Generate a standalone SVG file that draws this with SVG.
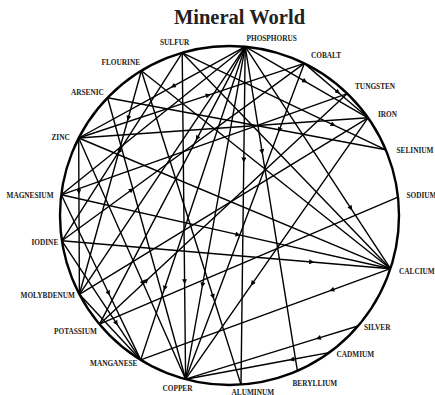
<svg xmlns="http://www.w3.org/2000/svg" width="435" height="395" viewBox="0 0 435 395">
<style>
.e{stroke:#000;stroke-width:1.4;fill:none;marker-mid:url(#a)}
.lb{font-family:"Liberation Serif","Times New Roman",serif;font-weight:bold;font-size:7.3px;fill:#222}
.t{font-family:"Liberation Serif","Times New Roman",serif;font-weight:bold;font-size:20.5px;fill:#222}
</style>
<defs>
<marker id="a" viewBox="0 0 10 10" refX="5" refY="5" markerWidth="6" markerHeight="5" markerUnits="userSpaceOnUse" orient="auto">
<path d="M0,0 L10,5 L0,10 z" fill="#000"/>
</marker>
</defs>
<rect width="435" height="395" fill="#fff"/>
<text class="t" x="239.5" y="23.5" text-anchor="middle">Mineral World</text>
<circle cx="229.5" cy="215.5" r="169.5" fill="none" stroke="#000" stroke-width="2.4"/>
<g id="connectors">
<path class="e" d="M245.2,46.7 L173,86.3 L78.7,138"/>
<path class="e" d="M245.2,46.7 L61.3,194.8"/>
<path class="e" d="M245.2,46.7 L79.4,294.3"/>
<path class="e" d="M245.2,46.7 L197.1,138.3 L99.5,324.2"/>
<path class="e" d="M245.2,46.7 L164.6,288.3 L140.7,359.9"/>
<path class="e" d="M245.2,46.7 L202.5,285 L185.6,379.2"/>
<path class="e" d="M245.2,46.7 L243.8,160 L241,384.6"/>
<path class="e" d="M245.2,46.7 L262.1,151.7 L297.4,370.8"/>
<path class="e" d="M245.2,46.7 L350.9,208.3 L390.4,268.7"/>
<path class="e" d="M245.2,46.7 L305,81.3 L368,117.8"/>
<path class="e" d="M182.2,52.8 L184.6,281.7 L185.6,379.2"/>
<path class="e" d="M182.2,52.8 L118.9,151.7 L61.9,240.8"/>
<path class="e" d="M182.2,52.8 L390.4,268.7"/>
<path class="e" d="M182.2,52.8 L333.3,124.8 L385.8,149.8"/>
<path class="e" d="M141.4,70.7 L128.2,118.3 L79.4,294.3"/>
<path class="e" d="M141.4,70.7 L213.1,296.7 L241,384.6"/>
<path class="e" d="M141.4,70.7 L390.4,268.7"/>
<path class="e" d="M107.6,97.8 L385.8,149.8"/>
<path class="e" d="M107.6,97.8 L185.6,379.2"/>
<path class="e" d="M78.7,138 L368,117.8"/>
<path class="e" d="M78.7,138 L390.4,268.7"/>
<path class="e" d="M78.7,138 L208.3,95.2 L304.3,63.4"/>
<path class="e" d="M78.7,138 L78.9,191.7 L79.4,294.3"/>
<path class="e" d="M78.7,138 L143.1,283.3 L185.6,379.2"/>
<path class="e" d="M61.3,194.8 L238,234.6 L390.4,268.7"/>
<path class="e" d="M61.3,194.8 L347.3,93.6"/>
<path class="e" d="M61.3,194.8 L108.7,293.3 L140.7,359.9"/>
<path class="e" d="M61.9,240.8 L311.7,262 L390.4,268.7"/>
<path class="e" d="M61.9,240.8 L131.7,189.7 L304.3,63.4"/>
<path class="e" d="M61.9,240.8 L116.5,323.3 L140.7,359.9"/>
<path class="e" d="M79.4,294.3 L140.7,359.9"/>
<path class="e" d="M79.4,294.3 L368,117.8"/>
<path class="e" d="M99.5,324.2 L398,197.2"/>
<path class="e" d="M99.5,324.2 L146.7,280.3 L347.3,93.6"/>
<path class="e" d="M390.4,268.7 L331.7,290.1 L140.7,359.9"/>
<path class="e" d="M358,326 L318.3,338.2 L185.6,379.2"/>
<path class="e" d="M329.1,352.6 L291.7,359.5 L185.6,379.2"/>
<path class="e" d="M304.3,63.4 L338,92.2 L368,117.8"/>
<path class="e" d="M304.3,63.4 L279.3,130 L185.6,379.2"/>
<path class="e" d="M368,117.8 L252.3,283.6 L185.6,379.2"/>
</g>
<g id="n-phosphorus"><text class="lb" x="246.5" y="41">PHOSPHORUS</text></g>
<g id="n-sulfur"><text class="lb" x="160" y="44.5">SULFUR</text></g>
<g id="n-flourine"><text class="lb" x="101.5" y="65">FLOURINE</text></g>
<g id="n-arsenic"><text class="lb" x="71" y="95">ARSENIC</text></g>
<g id="n-zinc"><text class="lb" x="51.5" y="140">ZINC</text></g>
<g id="n-magnesium"><text class="lb" x="6.5" y="198">MAGNESIUM</text></g>
<g id="n-iodine"><text class="lb" x="31.5" y="244.5">IODINE</text></g>
<g id="n-molybdenum"><text class="lb" x="20.5" y="298">MOLYBDENUM</text></g>
<g id="n-potassium"><text class="lb" x="54" y="333.5">POTASSIUM</text></g>
<g id="n-manganese"><text class="lb" x="90" y="366">MANGANESE</text></g>
<g id="n-copper"><text class="lb" x="162.5" y="391">COPPER</text></g>
<g id="n-aluminum"><text class="lb" x="231.5" y="394.5">ALUMINUM</text></g>
<g id="n-beryllium"><text class="lb" x="292.5" y="386">BERYLLIUM</text></g>
<g id="n-cadmium"><text class="lb" x="336.5" y="357">CADMIUM</text></g>
<g id="n-silver"><text class="lb" x="364" y="329.5">SILVER</text></g>
<g id="n-calcium"><text class="lb" x="399" y="273.5">CALCIUM</text></g>
<g id="n-sodium"><text class="lb" x="406.5" y="198">SODIUM</text></g>
<g id="n-selinium"><text class="lb" x="396.5" y="153">SELINIUM</text></g>
<g id="n-iron"><text class="lb" x="378" y="117">IRON</text></g>
<g id="n-tungsten"><text class="lb" x="355" y="89">TUNGSTEN</text></g>
<g id="n-cobalt"><text class="lb" x="311" y="58">COBALT</text></g>
</svg>
